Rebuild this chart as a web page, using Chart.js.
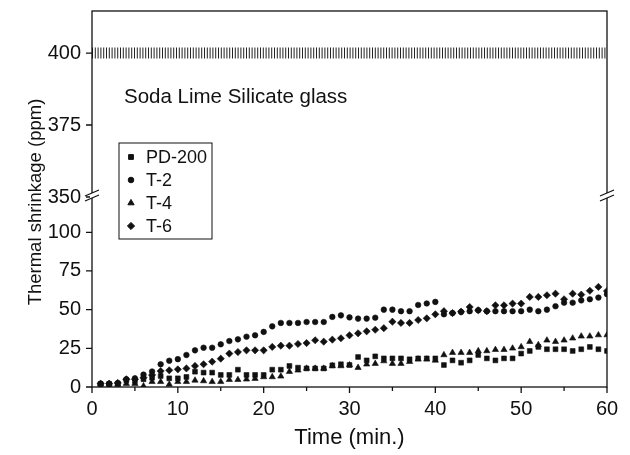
<!DOCTYPE html>
<html>
<head>
<meta charset="utf-8">
<script src="https://cdn.jsdelivr.net/npm/chart.js@4.4.1/dist/chart.umd.min.js"></script>
<style>
  html, body { margin: 0; padding: 0; background: #fff; }
</style>
</head>
<body>
<canvas id="shrink_chart" width="630" height="455"></canvas>
<script>
// DATA
const time_min = [1, 2, 3, 4, 5, 6, 7, 8, 9, 10, 11, 12, 13, 14, 15, 16, 17, 18, 19, 20,
  21, 22, 23, 24, 25, 26, 27, 28, 29, 30, 31, 32, 33, 34, 35, 36, 37, 38, 39, 40,
  41, 42, 43, 44, 45, 46, 47, 48, 49, 50, 51, 52, 53, 54, 55, 56, 57, 58, 59, 60];

const pd200 = [2, 2, 2, 4.3, 3.9, 5, 6, 7.1, 5.6, 5.6, 6.5, 9.9, 9.3, 9.3, 7.8, 7.8, 11.2, 7.8, 7.8, 7.8,
  11.2, 11.2, 13.6, 12.5, 12, 12, 12, 14, 14.7, 14.2, 19.4, 17.2, 19.8, 18.5, 18.5, 18.5, 17.9, 18.5, 18.5, 18.5,
  14.2, 17.2, 15.7, 17.2, 20.7, 18.5, 17.2, 18.5, 18.5, 21.6, 23.3, 25.9, 24.4, 24.4, 24.4, 23.3, 24.4, 25.9, 24.4, 23.3];

const t2 = [2, 2, 2.6, 5, 5.6, 8, 10, 14.7, 17, 18, 20.7, 23.7, 25.4, 25.4, 27.6, 29.7, 30.8, 32.5, 33.4, 35.6,
  39.2, 41.4, 41.4, 41.4, 42, 42, 42, 45.3, 46.3, 45, 44.2, 44.2, 44.8, 50, 50, 49, 49, 53, 54, 55,
  47, 47.8, 48.5, 49, 49.6, 49, 49, 49, 49, 49, 50, 49, 50, 52.2, 54.5, 54.5, 56, 56.7, 57.8, 60];

const t4 = [1.7, 1.7, 1.7, 2.2, 2.2, 0.6, 3.4, 3.4, 1.7, 3.4, 3.4, 4.3, 3.9, 3.4, 3.4, 4.7, 4.7, 5, 5.4, 6.5,
  6.5, 6.9, 9.9, 10.8, 12, 12, 12, 13.6, 13.6, 14.2, 12.5, 14.7, 15.1, 16.8, 15.1, 15.1, 16.4, 17.9, 17.9, 17.2,
  20.7, 22.2, 22.2, 22.2, 23.3, 23.3, 24.1, 24.1, 25, 25.9, 29.3, 27.2, 30.2, 29.3, 30.2, 31.5, 32.8, 32.8, 33.6, 33.6];

const t6 = [2.2, 2.2, 2.6, 5, 5, 6, 7.8, 10.3, 10.8, 11.4, 12, 13.6, 14.7, 16.4, 18.3, 21.6, 22.6, 23.7, 23.7, 23.7,
  25.9, 26.7, 26.7, 27.8, 28.4, 30.2, 29.3, 30.6, 31.5, 33.4, 34.7, 36, 37, 38, 42.2, 41.4, 41.4, 43.3, 44.4, 47,
  49, 47.8, 48.7, 51.7, 49.6, 49, 52.8, 52.8, 53.9, 53.9, 58.2, 58.2, 59.3, 60.3, 56.7, 60.3, 59.7, 62.2, 64.7, 62];

// hatched reference band in the upper panel
const ref_x = [0, 60];
const ref_y = [400, 400];

const x_ticks_major = [0, 10, 20, 30, 40, 50, 60];
const y_low_labels = [0, 25, 50, 75, 100];
const y_high_labels = [350, 375, 400];

const INK = "#111";
const FONT = "'Liberation Sans', Arial, sans-serif";

function toPoints(xs, ys) {
  return xs.map((x, i) => ({ x: x, y: ys[i] }));
}

function series(label, values, style, radius) {
  return {
    label: label,
    data: toPoints(time_min, values),
    yAxisID: "y",
    pointStyle: style,
    pointRadius: radius,
    pointBorderWidth: 0.6,
    backgroundColor: INK,
    borderColor: INK,
    showLine: false,
  };
}

// frame, ticks, axis break, legend and labels
const decorations = {
  id: "decorations",
  afterDraw(chart) {
    const { ctx, chartArea: a, scales } = chart;
    const xs = scales.x, lo = scales.y, hi = scales.y2;
    ctx.save();
    ctx.strokeStyle = INK;
    ctx.lineWidth = 1.3;
    ctx.strokeRect(a.left, a.top, a.width, a.height);

    ctx.beginPath();
    xs.ticks.forEach(t => {
      const px = xs.getPixelForValue(t.value);
      const len = x_ticks_major.includes(t.value) ? 6 : 4;
      ctx.moveTo(px, a.bottom);
      ctx.lineTo(px, a.bottom + len);
    });
    [[lo, y_low_labels], [hi, y_high_labels]].forEach(([s, majors]) => {
      s.ticks.forEach(t => {
        if (t.value % 12.5 !== 0) return;
        const py = s.getPixelForValue(t.value);
        const len = majors.includes(t.value) ? 6 : 4;
        ctx.moveTo(a.left, py);
        ctx.lineTo(a.left - len, py);
      });
    });
    ctx.stroke();

    // axis break marks
    const by = hi.bottom;
    [a.left, a.right].forEach(bx => {
      ctx.fillStyle = "#fff";
      ctx.fillRect(bx - 2, by - 4, 4, 5);
      ctx.beginPath();
      ctx.moveTo(bx - 7, by - 1);
      ctx.lineTo(bx + 7, by - 7);
      ctx.moveTo(bx - 7, by + 4);
      ctx.lineTo(bx + 7, by - 2);
      ctx.stroke();
    });

    // legend
    const lx = a.left + 27, ly = a.top + 132;
    ctx.lineWidth = 1;
    ctx.strokeRect(lx, ly, 93, 96);
    ctx.font = "18px " + FONT;
    ctx.textBaseline = "middle";
    ctx.fillStyle = INK;
    chart.data.datasets.slice(0, 4).forEach((ds, i) => {
      const cy = ly + 14 + i * 23;
      Chart.helpers.drawPoint(ctx, { pointStyle: ds.pointStyle, radius: ds.pointRadius, rotation: 0, borderWidth: 0.6 }, lx + 12, cy);
      ctx.fillText(ds.label, lx + 27, cy + 1);
    });

    // annotation
    ctx.font = "20.5px " + FONT;
    ctx.fillText("Soda Lime Silicate glass", a.left + 32, hi.getPixelForValue(384.5));

    // axis titles
    ctx.textAlign = "center";
    ctx.font = "22px " + FONT;
    ctx.fillText("Time (min.)", (a.left + a.right) / 2, 438);
    ctx.font = "18.5px " + FONT;
    ctx.translate(36, (a.top + a.bottom) / 2 + 3);
    ctx.rotate(-Math.PI / 2);
    ctx.fillText("Thermal shrinkage (ppm)", 0, 0);
    ctx.restore();
  },
};

const yTick = majors => ({
  stepSize: 12.5,
  includeBounds: false,
  color: INK,
  font: { family: FONT, size: 20 },
  padding: 5,
  callback: v => (majors.includes(v) ? v : ""),
});

const fitY = s => {
  s.width = 92;
  s.paddingTop = 0;
  s.paddingBottom = 0;
};

const ctx = document.getElementById("shrink_chart").getContext("2d");

const my_chart = new Chart(ctx, {
  type: "scatter",
  data: {
    datasets: [
      series("PD-200", pd200, "rect", 3.4),
      series("T-2", t2, "circle", 2.8),
      series("T-4", t4, "triangle", 3.6),
      series("T-6", t6, "rectRot", 3.6),
      {
        label: "400 ppm",
        type: "line",
        data: toPoints(ref_x, ref_y),
        yAxisID: "y2",
        borderColor: "#222",
        borderWidth: 11,
        borderDash: [1, 1.8],
        borderCapStyle: "butt",
        pointRadius: 0,
      },
    ],
  },
  options: {
    responsive: false,
    animation: false,
    devicePixelRatio: 1,
    layout: { padding: { top: 11, right: 23, left: 0, bottom: 0 } },
    plugins: { legend: { display: false }, tooltip: { enabled: false } },
    scales: {
      x: {
        type: "linear",
        min: 0,
        max: 60,
        grid: { drawOnChartArea: false, color: "rgba(0,0,0,0)", tickLength: 6 },
        border: { display: false },
        ticks: {
          stepSize: 5,
          includeBounds: false,
          maxRotation: 0,
          color: INK,
          font: { family: FONT, size: 20 },
          padding: 4,
          callback: v => (x_ticks_major.includes(v) ? v : ""),
        },
        afterFit: s => { s.height = 68; },
      },
      y: {
        position: "left",
        stack: "broken",
        stackWeight: 190,
        min: 0,
        max: 122.8,
        grid: { drawOnChartArea: false, color: "rgba(0,0,0,0)", tickLength: 6 },
        border: { display: false },
        ticks: yTick(y_low_labels),
        afterFit: fitY,
      },
      y2: {
        position: "left",
        stack: "broken",
        stackWeight: 186,
        min: 350,
        max: 414.6,
        grid: { drawOnChartArea: false, color: "rgba(0,0,0,0)", tickLength: 6 },
        border: { display: false },
        ticks: yTick(y_high_labels),
        afterFit: fitY,
      },
    },
  },
  plugins: [decorations],
});
</script>
</body>
</html>
